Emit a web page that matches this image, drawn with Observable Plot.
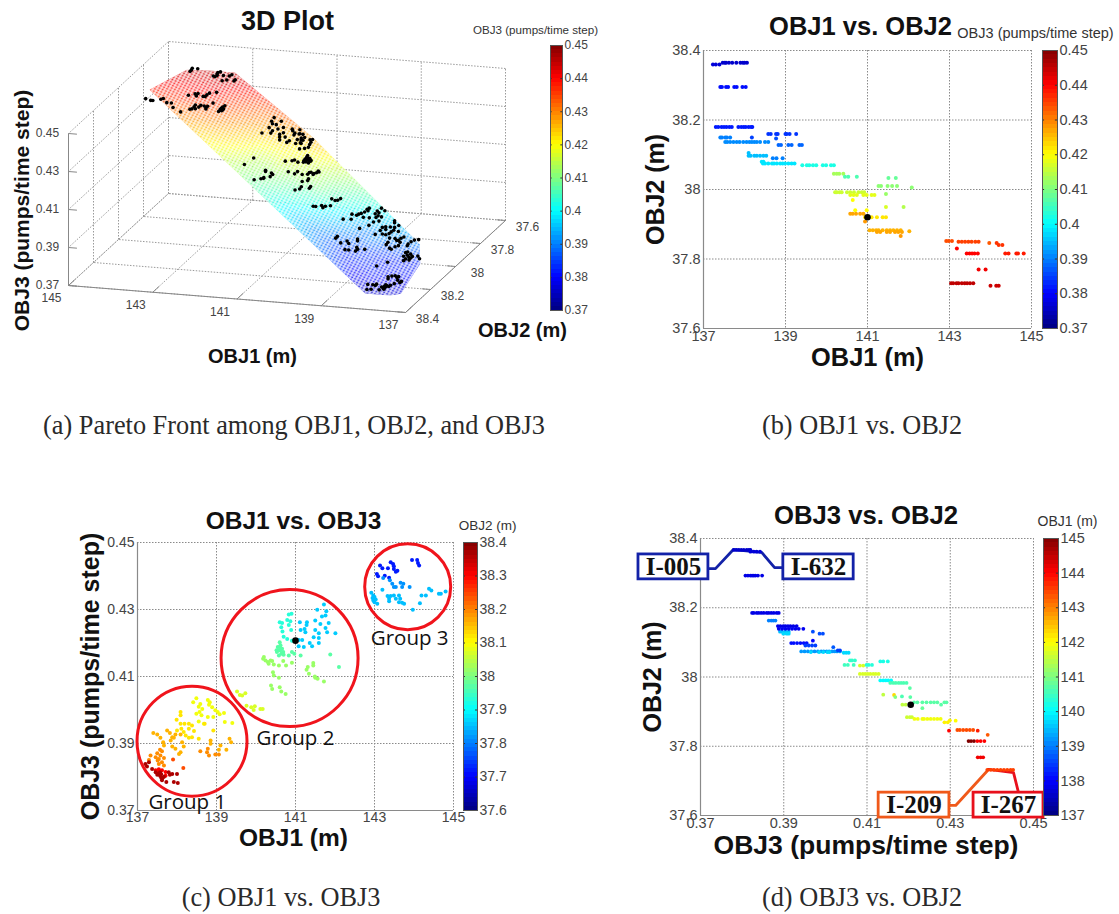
<!DOCTYPE html>
<html>
<head>
<meta charset="utf-8">
<script src="https://cdn.jsdelivr.net/npm/d3@7"></script>
<script src="https://cdn.jsdelivr.net/npm/@observablehq/plot@0.6"></script>
<style>
html,body{margin:0;padding:0;background:#fff}
#page{position:relative;width:1119px;height:914px;overflow:hidden;background:#fff}
#page svg{position:absolute;background:transparent;max-width:none;overflow:visible}
.cap{position:absolute;font-family:"Liberation Serif",serif;font-size:26.3px;color:#2a2a2a;white-space:nowrap;transform:translateX(-50%)}
</style>
</head>
<body>
<div id="page"></div>
<script>
const obj1Ticks=[137,139,141,143,145];
const obj2Ticks=[37.6,37.8,38,38.2,38.4];
const obj3Ticks=[0.37,0.39,0.41,0.43,0.45];
const obj1Bar=[137,138,139,140,141,142,143,144,145];
const obj2Bar=[37.6,37.7,37.8,37.9,38,38.1,38.2,38.3,38.4];
const obj3Bar=[0.37,0.38,0.39,0.4,0.41,0.42,0.43,0.44,0.45];

// Panel (b) rows: OBJ2, OBJ3, list of OBJ1
const rowsB=[
[38.36,.377,[137.23,137.3,137.39]],
[38.365,.376,[137.47,137.52,137.55,137.62,137.7,137.8,137.9,137.96,138,138.06]],
[38.295,.381,[137.41,137.45,137.55,137.6,137.75,137.81,137.95,138.03]],
[38.18,.382,[137.3,137.36,137.44,137.5,137.56,137.63,137.69,137.85,137.92,137.98,138.03,138.1,138.16,138.19]],
[38.16,.384,[138.58,138.64,138.77,138.81,139,139.03,139.1,139.26]],
[38.15,.39,[137.41,137.45,137.53,137.57,137.65]],
[38.15,.385,[138.18]],
[38.137,.391,[137.53,137.58,137.65,137.73,137.81,137.88,137.97,138.05,138.12,138.18,138.24,138.3,138.38,138.5,138.58]],
[38.147,.386,[138.77]],
[38.128,.388,[138.83,138.89,139.07,139.15,139.34,139.4]],
[38.105,.395,[138.1]],
[38.097,.395,[138.1,138.15,138.24,138.3,138.38,138.46,138.53]],
[38.09,.39,[138.69,138.78,138.93]],
[38.08,.398,[138.42,138.46]],
[38.075,.398,[138.45,138.5,138.58,138.67,138.72,138.79,138.87,138.93,138.99,139.07,139.15,139.22]],
[38.07,.402,[139.41,139.52,139.58,139.67,139.75,139.91,139.99,140.11,140.18]],
[38.045,.413,[140.18,140.25,140.31,140.41]],
[38.037,.406,[140.45,140.53,140.74]],
[38.033,.408,[141.51,141.69]],
[38.01,.411,[141.27,141.33,141.49,141.6,141.72]],
[38.006,.411,[142.08]],
[37.992,.416,[140.21,140.25,140.32,140.37,140.5,140.58,140.67,140.78,140.86,140.92]],
[37.984,.418,[140.58,140.66,140.74,140.9,140.98,141.1,141.17]],
[37.987,.412,[141.45]],
[37.97,.42,[140.64]],
[37.95,.417,[141.45]],
[37.95,.414,[141.88]],
[37.94,.42,[140.7,140.98]],
[37.93,.427,[140.58,140.64,140.72,140.82,140.9]],
[37.92,.422,[140.94,141.1,141.23,141.37,141.45]],
[37.908,.428,[140.94]],
[37.883,.426,[141.05,141.13,141.21,141.27,141.37,141.47,141.55,141.63,141.72,141.81]],
[37.878,.427,[141.23,141.31,141.47,141.55,141.67,141.75,141.84]],
[37.866,.428,[141.81]],
[37.88,.426,[142.02]],
[37.852,.434,[142.92,142.98,143.06]],
[37.85,.435,[143.22,143.3,143.38,143.46,143.54,143.63,143.71]],
[37.846,.433,[143.97]],
[37.846,.436,[144.15]],
[37.84,.436,[144.2,144.29]],
[37.83,.44,[143.18]],
[37.816,.44,[143.42,143.49,143.55,143.61,143.69]],
[37.816,.438,[144.36,144.44,144.63,144.67,144.81]],
[37.77,.441,[143.71,143.88]],
[37.73,.445,[143.04,143.09,143.17,143.22,143.3,143.37,143.43,143.5,143.58]],
[37.723,.444,[144,144.14,144.2]]
];
const selected=[141,37.92,0.4207];

// Panel (c) groups: OBJ2 colour, list of [OBJ1, OBJ3]
const rowsC=[
[38.09,[[138.49,.4035],[138.41,.4023],[138.59,.4018],[138.55,.401],[138.64,.4003],[138.57,.3994],[138.62,.3984],[138.49,.3989],[138.78,.403],[138.83,.4023],[138.81,.4016],[138.89,.4008],[138.97,.3999],[139.03,.3994],[139.08,.3987],[139.19,.3991],[139.21,.3964],[139.4,.3961],[138.92,.3979],[138.55,.3966],[138.68,.3959],[138.78,.3979]]],
[38.12,[[138.09,.3994],[138.09,.3984],[137.99,.3971],[138.09,.3959],[138.19,.3959],[138.3,.3959],[138.38,.3954],[138.43,.3937],[138.11,.3944],[138,.3939],[138.17,.3934],[138.3,.3944],[138.22,.3924],[138.3,.3917],[138.38,.3919],[138.55,.3914],[138.92,.3939],[138.7,.3959]]],
[38.16,[[137.4,.3931],[137.5,.3927],[137.58,.3917],[137.65,.3904],[137.67,.3894],[137.75,.3939],[137.82,.3931],[137.88,.3919],[137.84,.3909],[137.92,.3917],[137.96,.3927],[138.09,.3927],[138.13,.3904],[138.17,.3891],[137.88,.3891],[137.96,.3884],[138.09,.3874],[138.05,.3869],[138.85,.3909],[138.85,.3899],[139.1,.3894],[139.33,.3914],[139.37,.3904],[139.25,.3881],[139.06,.3881]]],
[38.19,[[138.59,.3877],[138.78,.3884],[138.76,.3874],[138.81,.3864],[138.97,.3867],[139.06,.3867],[137.57,.3881],[137.62,.3877],[137.5,.3871],[137.46,.3859],[137.33,.3864],[137.58,.3864],[137.67,.3857],[137.54,.3854],[137.62,.3844],[137.54,.3839],[137.67,.3834],[137.29,.3851],[137.51,.3849]]],
[38.24,[[137.9,.3852],[138.16,.3827]]],
[38.3,[[137.54,.3823],[137.62,.382],[137.71,.3815],[137.5,.3815],[137.46,.382],[137.71,.3804]]],
[38.365,[[137.2,.3839],[137.29,.3844],[137.24,.3831],[137.37,.3824],[137.46,.3814],[137.5,.3807],[137.57,.3804],[137.6,.3798],[137.67,.3801],[137.57,.3814],[137.62,.379],[137.73,.3785],[137.82,.3807],[137.88,.3809],[138,.3809],[137.92,.3785],[138.02,.3782],[137.79,.3814],[137.54,.381],[137.6,.3808],[137.63,.3796]]],
[38.07,[[139.52,.4055],[139.59,.4045],[139.65,.4043],[139.73,.405],[139.76,.4013],[139.88,.4008],[139.97,.4011],[139.94,.4],[140.11,.4003],[140.17,.4003]]],
[38.02,[[140.2,.4158],[140.24,.4148],[140.18,.4153],[140.3,.4143],[140.37,.4148],[140.32,.4138],[140.45,.4136],[140.41,.4146],[140.58,.4133],[140.69,.4146],[140.76,.4133],[140.91,.4141],[140.43,.4113],[140.45,.4103],[140.58,.4096],[141.31,.4128],[141.28,.412],[141.34,.4108],[141.45,.414],[141.45,.4133],[141.5,.4096],[141.56,.4093],[141.72,.4085],[141.49,.41],[140.38,.4073],[140.41,.4063],[140.6,.4068],[140.64,.4055],[140.75,.4048]]],
[37.97,[[140.6,.4202],[140.55,.4188],[140.62,.4193],[140.58,.4178],[140.66,.4183],[140.53,.4173],[140.64,.4168],[140.58,.4163],[140.69,.4173],[140.6,.4188],[140.52,.4178],[140.62,.4178],[140.83,.4163],[140.97,.4168],[140.91,.4173],[141.13,.4163],[140.7,.4165],[141.88,.4166],[142.1,.4128]]],
[37.93,[[140.9,.4287],[140.83,.4285],[140.79,.4269],[140.87,.4265],[140.83,.4254],[140.89,.4239],[140.6,.4262],[140.66,.426],[140.64,.4247],[140.67,.4234],[140.7,.4219],[140.79,.4212],[140.91,.4207]]],
[37.86,[[141.72,.4315],[141.78,.4295],[141.76,.4282],[141.55,.4299],[141.67,.4279],[141.5,.4267],[141.84,.426],[141.63,.4257],[141.76,.4245],[141.8,.4232],[142.01,.4229],[141.5,.4239],[141.59,.4229],[141.59,.4215],[141.46,.4217],[141.59,.42],[141.36,.42],[141.42,.419],[141.21,.4188],[141.08,.419],[141.29,.4262],[141.28,.4254],[141.11,.4262],[141.23,.4242],[141.25,.4232],[141.13,.4239],[141.17,.4209],[141.08,.4209]]],
[37.72,[[143.14,.4431],[143.2,.4423],[143.34,.4423],[143.41,.4441],[143.47,.4436],[143.49,.4421],[143.54,.4413],[143.58,.4416],[143.49,.4429],[143.06,.4406],[143.09,.4399],[143.26,.4401],[143.37,.4395],[143.95,.4448],[144.08,.4448],[144.1,.4439],[144.13,.4431]]],
[37.815,[[143.22,.4394],[143.39,.4387],[143.45,.4377],[143.49,.4367],[143.54,.4367],[143.66,.438],[143.73,.4377],[143.7,.4367],[143.89,.4367]]],
[37.85,[[142.92,.435],[142.97,.4342],[143,.4337],[142.95,.4334],[143.03,.433],[143,.4322],[143.07,.4317],[142.97,.4327],[143.33,.434],[143.37,.4332],[143.41,.434],[143.49,.4342],[143.54,.4332],[143.37,.4325],[143.62,.4342],[143.65,.4332],[143.62,.4322],[143.7,.432],[143.75,.4317],[144.38,.4362],[144.44,.4357],[144.63,.4347],[144.68,.4347],[144.8,.4354],[144.3,.4342],[144.19,.4342],[144.15,.4319],[143.97,.4299],[143.2,.4359]]]
];
const groupCx=[138.38,140.85,143.84];
const groupCy=[0.3907,0.4155,0.4368];
const groupR=[55,68.5,43];
const groupNames=["Group 1","Group 2","Group 3"];
const groupLabelX=[138.26,141,143.89];
const groupLabelY=[0.3725,0.3915,0.4213];

// Panel (d) rows: OBJ2, OBJ1 colour, list of OBJ3
const rowsD=[
[38.367,137.6,[.378,.3786,.3792,.3798,.3804,.3811,.3816,.382]],
[38.362,137.7,[.382,.3828,.3835,.3843]],
[38.293,137.8,[.3808,.3814,.382,.3824,.3828,.3832,.3838,.3848]],
[38.185,137.8,[.3824,.3828,.3835,.384,.3846,.3852,.3859,.3864,.387,.3876,.3883,.3888]],
[38.163,139,[.3864,.387,.3875,.388]],
[38.131,139.5,[.3891,.3896,.3904,.3912]],
[38.125,139.7,[.3899,.3907,.3912]],
[38.147,137.8,[.3886,.3892,.3899,.3904,.391,.3916,.3923,.3931]],
[38.139,137.9,[.3888,.3896,.3904,.3912,.392,.3928,.3936,.3947]],
[38.131,138.6,[.397]],
[38.125,138.6,[.3986,.3994]],
[38.105,138,[.397]],
[38.098,138.1,[.3918,.3924,.3932,.394,.3948,.3955]],
[38.091,138.5,[.3952,.396,.3968,.3976]],
[38.086,138.7,[.4019]],
[38.074,139.2,[.3942,.395,.3958,.3966,.3974,.3982,.399,.3996,.4003,.4009,.4016,.4022,.4028,.4035]],
[38.072,139.7,[.3965,.3985,.3995,.4005,.401]],
[38.077,138.5,[.403,.4035]],
[38.07,139.7,[.4044,.405,.4056]],
[38.048,140.4,[.4059,.4064,.4071]],
[38.035,140.5,[.4046,.4054,.4068]],
[38.033,141.7,[.4083,.4091]],
[38.035,140.3,[.4099,.4104,.4112]],
[38.045,140.2,[.4132,.4139,.415]],
[38.009,141.7,[.4083,.409,.4096,.4102,.4108,.4115,.4121,.4128]],
[37.99,140,[.4132,.4139,.4145,.4151,.4158]],
[37.983,140.6,[.4156,.4163,.4169,.4176,.4182,.4188,.4195]],
[37.968,140.7,[.4203]],
[37.949,141.5,[.4139]],
[37.948,142.3,[.4165]],
[37.942,141,[.4168]],
[37.944,140.6,[.4184]],
[37.942,140.7,[.4204]],
[37.927,140.7,[.4213,.4221,.4233,.4243,.4253,.4261,.4269,.4286,.4291]],
[37.92,140.7,[.4278]],
[37.92,141.5,[.4185,.4193]],
[37.91,140.8,[.4233]],
[37.884,141.6,[.4196,.4203,.4208]],
[37.879,141.9,[.4214,.4222,.4233,.4237,.4245,.4253,.4261,.4269,.4277]],
[37.869,142.1,[.4286,.4294]],
[37.875,142.1,[.4299]],
[37.874,142,[.4313]],
[37.845,144,[.4297]],
[37.847,143.4,[.4317,.4323,.4331,.4339,.4347,.4355]],
[37.845,143.8,[.4366]],
[37.833,143.3,[.439]],
[37.815,145,[.4344,.435,.4357]],
[37.815,144,[.4365,.4373,.4382]],
[37.768,144.1,[.4366,.4373,.4379]],
[37.732,143.5,[.4389,.4397,.4405,.4413,.4421,.4429,.4437,.4445,.4451]]
];
const selectedD=[0.4205,37.92];

// Panel (d) call-outs
const calloutNames=["I-005","I-632","I-209","I-267"];
const calloutColors=["#1322a8","#1322a8","#f0591a","#e8101c"];
const calloutX1=[0.3551,0.3899,0.4128,0.4356];
const calloutX2=[0.3719,0.4068,0.4298,0.4524];
const calloutY1=[38.282,38.282,37.594,37.594];
const calloutY2=[38.354,38.354,37.666,37.666];
const blueLeaderX=[0.3719,0.3736,0.3779,0.3847,0.3878,0.3899];
const blueLeaderY=[38.313,38.313,38.368,38.36,38.316,38.316];
const orangeLeaderX=[0.4298,0.4313,0.4392];
const orangeLeaderY=[37.629,37.629,37.733];
const redLeaderX=[0.4392,0.4452,0.4464];
const redLeaderY=[37.733,37.724,37.666];

const pointsB=rowsB.flatMap(([b,c,as])=>as.map(a=>({a,b,c})));
const pointsC=rowsC.flatMap(([b,ps])=>ps.map(([a,c])=>({a,b,c})));
const pointsD=rowsD.flatMap(([b,a,cs])=>cs.map(c=>({a,b,c})));

const page=document.getElementById("page");
const FONT='"Liberation Sans",Arial,sans-serif';
const jet=t=>{
  const f=v=>Math.round(255*Math.max(0,Math.min(1,v)));
  return `rgb(${f(1.5-Math.abs(4*t-3))},${f(1.5-Math.abs(4*t-2))},${f(1.5-Math.abs(4*t-1))})`;
};
function place(svg,left,top){svg.style.left=left+"px";svg.style.top=top+"px";page.appendChild(svg);return svg;}
const fmt=d=>String(d);
const GRID={stroke:"#8a8a8a",strokeDasharray:"1.5,1.5",strokeOpacity:1,strokeWidth:1};
const MID={textAnchor:"middle",lineAnchor:"middle"};

function panel(o){
  const ml=72,mr=14,mt=44,mb=50;
  const svg=Plot.plot({
    width:o.w+ml+mr,height:o.h+mt+mb,marginLeft:ml,marginRight:mr,marginTop:mt,marginBottom:mb,
    x:{domain:o.xDomain,axis:null},y:{domain:o.yDomain,axis:null},
    color:{type:"linear",domain:o.colorDomain,interpolate:jet,clamp:true},
    style:{fontFamily:FONT,background:"transparent"},
    marks:[
      Plot.gridX(o.xTicks,GRID),Plot.gridY(o.yTicks,GRID),
      Plot.ruleX([o.xDomain[0]],{stroke:"#8a8a8a",strokeWidth:1.2}),
      Plot.ruleY([o.yDomain[0]],{stroke:"#8a8a8a",strokeWidth:1.2}),
      Plot.axisX(o.xTicks,{tickSize:0,tickPadding:2,fontSize:o.tickFont,tickFormat:fmt,color:"#444",label:null}),
      Plot.axisY(o.yTicks,{tickSize:0,tickPadding:3,fontSize:o.tickFont,tickFormat:fmt,color:"#444",label:null}),
      ...o.marks,
      Plot.text([o.title],{text:d=>d,frameAnchor:"top",dy:o.titleDy,dx:o.titleDx||0,fontSize:o.titleFont,fontWeight:"bold",fill:"#111",...MID}),
      Plot.text([o.xLabel],{text:d=>d,frameAnchor:"bottom",dy:o.xLabelDy,dx:o.xLabelDx||0,fontSize:o.xLabelFont,fontWeight:"bold",fill:"#111",...MID}),
      Plot.text([o.yLabel],{text:d=>d,frameAnchor:"left",dx:o.yLabelDx,rotate:-90,fontSize:o.yLabelFont,fontWeight:"bold",fill:"#111",...MID})
    ]
  });
  return place(svg,o.left-ml,o.top-mt);
}
function colorbar(o){
  const ml=100,mr=60,mt=24,mb=14,n=64,[lo,hi]=o.domain,st=(hi-lo)/n;
  const levels=d3.range(n).map(i=>lo+i*st);
  const svg=Plot.plot({
    width:o.w+ml+mr,height:o.h+mt+mb,marginLeft:ml,marginRight:mr,marginTop:mt,marginBottom:mb,
    x:{domain:[0,1],axis:null},y:{domain:o.domain,axis:null},
    color:{type:"linear",domain:o.domain,interpolate:jet},
    style:{fontFamily:FONT,background:"transparent"},
    marks:[
      Plot.rect(levels,{x1:0,x2:1,y1:d=>d,y2:d=>d+st,fill:d=>d+st/2,shapeRendering:"crispEdges"}),
      Plot.ruleY(o.ticks,{x1:0,x2:0.14,stroke:"#333"}),
      Plot.ruleY(o.ticks,{x1:0.86,x2:1,stroke:"#333"}),
      Plot.frame({stroke:"#555"}),
      Plot.axisY(o.ticks,{anchor:"right",tickSize:0,tickPadding:2,fontSize:o.tickFont,tickFormat:fmt,color:"#444",label:null}),
      Plot.text([o.title],{text:d=>d,frameAnchor:"top",dx:o.titleDx,dy:o.titleDy,fontSize:o.titleFont,fill:"#333",...MID})
    ]
  });
  return place(svg,o.left-ml,o.top-mt);
}

/* ---------- Panel (a): orthographic 3-D view ---------- */
const px=(a,b)=>68+(145-a)*42.125+(38.4-b)*125;
const py=(a,b,c)=>285+(145-a)*3.375-(38.4-b)*115-(c-0.37)*1900;
const seg=(p,q)=>({x1:px(p[0],p[1]),y1:py(...p),x2:px(q[0],q[1]),y2:py(...q)});
const [aMin,aMax]=[137,145],[bMin,bMax]=[37.6,38.4],[cMin,cMax]=[0.37,0.45];
const grid3d=[
  ...obj1Ticks.map(a=>seg([a,bMax,cMin],[a,bMin,cMin])),
  ...obj2Ticks.map(b=>seg([aMin,b,cMin],[aMax,b,cMin])),
  ...obj1Ticks.map(a=>seg([a,bMin,cMin],[a,bMin,cMax])),
  ...obj3Ticks.map(c=>seg([aMin,bMin,c],[aMax,bMin,c])),
  ...obj2Ticks.map(b=>seg([aMax,b,cMin],[aMax,b,cMax])),
  ...obj3Ticks.map(c=>seg([aMax,bMin,c],[aMax,bMax,c]))
];
const axes3d=[seg([aMax,bMax,cMin],[aMin,bMax,cMin]),seg([aMin,bMax,cMin],[aMin,bMin,cMin]),seg([aMax,bMax,cMin],[aMax,bMax,cMax]),
  ...obj1Ticks.map(a=>seg([a,bMax,cMin],[a,bMax-0.05,cMin])),
  ...obj2Ticks.map(b=>seg([aMin,b,cMin],[aMin+0.2,b,cMin])),
  ...obj3Ticks.map(c=>seg([aMax,bMax,c],[aMax-0.2,bMax,c]))];
const sx=d=>px(d.a,d.b), sy=d=>py(d.a,d.b,d.c);
const hull=d3.polygonHull(pointsB.map(d=>[sx(d),sy(d)]));
const txt=(s,dx,dy,size,extra={})=>Plot.text([s],{text:d=>d,frameAnchor:"top-left",dx,dy,fontSize:size,fontWeight:"bold",fill:"#111",...MID,...extra});
const svgA=Plot.plot({
  width:610,height:375,margin:0,
  x:{domain:[0,610],range:[0,610],axis:null},
  y:{domain:[0,375],range:[0,375],axis:null},
  color:{type:"linear",domain:[0.37,0.45],interpolate:jet},
  style:{fontFamily:FONT,background:"transparent"},
  marks:[
    Plot.link(grid3d,{x1:"x1",y1:"y1",x2:"x2",y2:"y2",stroke:"#9a9a9a",strokeDasharray:"1.5,1.5",strokeWidth:1}),
    Plot.raster(pointsB,{x:sx,y:sy,fill:"c",interpolate:"barycentric",pixelSize:1}),
    Plot.line(hull,{x:d=>d[0],y:d=>d[1],fill:"url(#mesh3d)",stroke:"none"}),
    Plot.link(axes3d,{x1:"x1",y1:"y1",x2:"x2",y2:"y2",stroke:"#888",strokeWidth:1}),
    Plot.dot(pointsC,{x:sx,y:sy,r:1.8,fill:"black"}),
    Plot.text(obj1Ticks,{x:a=>px(a,bMax),y:a=>py(a,bMax,cMin),text:fmt,dx:-17,dy:13,fontSize:12,fill:"#444"}),
    Plot.text(obj2Ticks,{x:b=>px(aMin,b),y:b=>py(aMin,b,cMin),text:fmt,dx:22,dy:7,fontSize:12,fill:"#444"}),
    Plot.text(obj3Ticks,{x:c=>px(aMax,bMax),y:c=>py(aMax,bMax,c),text:fmt,dx:-21,fontSize:12,fill:"#444"}),
    txt("3D Plot",287,21,27),
    txt("OBJ1 (m)",252,356,20),
    txt("OBJ2 (m)",522,330,20),
    txt("OBJ3 (pumps/time step)",22,210,21,{rotate:-90})
  ]
});
place(svgA,0,0);
{
  const s=d3.select(svgA),defs=s.insert("defs",":first-child");
  defs.append("clipPath").attr("id","hull3d").append("polygon").attr("points",hull.map(p=>p.join(",")).join(" "));
  const pat=defs.append("pattern").attr("id","mesh3d").attr("patternUnits","userSpaceOnUse").attr("width",1).attr("height",1)
    .attr("patternTransform","matrix(3.2,1.5,1.3,-2.3,0,0)");
  pat.append("path").attr("d","M0 0H1M0 1H1M0 0V1M1 0V1").attr("stroke","#fff").attr("stroke-width",0.3).attr("fill","none");
  s.select("image").attr("clip-path","url(#hull3d)").attr("opacity",0.72);
}
colorbar({left:550,top:45,w:12,h:265,domain:[0.37,0.45],ticks:obj3Bar,tickFont:12,title:"OBJ3 (pumps/time step)",titleFont:11.6,titleDx:-21,titleDy:-15});

/* ---------- Panel (b) ---------- */
panel({left:703,top:50,w:328,h:278,xDomain:[137,145],yDomain:[37.6,38.4],colorDomain:[0.37,0.45],
  xTicks:obj1Ticks,yTicks:obj2Ticks,tickFont:14.5,
  title:"OBJ1 vs. OBJ2",titleDy:-24,titleDx:-7,titleFont:25.5,
  xLabel:"OBJ1 (m)",xLabelDy:29,xLabelFont:25.4,
  yLabel:"OBJ2 (m)",yLabelDx:-48,yLabelFont:25,
  marks:[
    Plot.dot(pointsB,{x:"a",y:"b",fill:"c",r:2}),
    Plot.dot([selected],{x:d=>d[0],y:d=>d[1],r:3.3,fill:"black"})
  ]});
colorbar({left:1042,top:50,w:15,h:278,domain:[0.37,0.45],ticks:obj3Bar,tickFont:14.5,title:"OBJ3 (pumps/time step)",titleFont:14.5,titleDx:-14.5,titleDy:-17});

/* ---------- Panel (c) ---------- */
panel({left:137,top:542,w:316,h:268,xDomain:[137,145],yDomain:[0.37,0.45],colorDomain:[37.6,38.4],
  xTicks:obj1Ticks,yTicks:obj3Ticks,tickFont:14,
  title:"OBJ1 vs. OBJ3",titleDy:-21,titleDx:-2,titleFont:24.5,
  xLabel:"OBJ1 (m)",xLabelDy:28,xLabelDx:-2,xLabelFont:24.5,
  yLabel:"OBJ3 (pumps/time step)",yLabelDx:-47,yLabelFont:25,
  marks:[
    Plot.dot(pointsC,{x:"a",y:"c",fill:"b",r:2}),
    Plot.dot([selected],{x:d=>d[0],y:d=>d[2],r:3.3,fill:"black"}),
    ...groupR.map((r,i)=>Plot.dot([i],{x:j=>groupCx[j],y:j=>groupCy[j],r,fill:"none",stroke:"#f0141c",strokeWidth:3})),
    Plot.text(groupNames,{x:(d,i)=>groupLabelX[i],y:(d,i)=>groupLabelY[i],text:d=>d,fontSize:20.5,fontFamily:'"Open Sans",sans-serif',fill:"#111"})
  ]});
colorbar({left:463,top:542,w:14,h:268,domain:[37.6,38.4],ticks:obj2Bar,tickFont:14,title:"OBJ2 (m)",titleFont:13.5,titleDx:17,titleDy:-17});

/* ---------- Panel (d) ---------- */
const leader=(X,Y,color)=>Plot.line(X.map((x,i)=>[x,Y[i]]),{x:d=>d[0],y:d=>d[1],stroke:color,strokeWidth:2.8});
panel({left:700,top:538,w:333,h:277,xDomain:[0.37,0.45],yDomain:[37.6,38.4],colorDomain:[137,145],
  xTicks:obj3Ticks,yTicks:obj2Ticks,tickFont:14.5,
  title:"OBJ3 vs. OBJ2",titleDy:-23,titleDx:-1,titleFont:25.7,
  xLabel:"OBJ3 (pumps/time step)",xLabelDy:30,xLabelDx:-1,xLabelFont:26.5,
  yLabel:"OBJ2 (m)",yLabelDx:-48,yLabelFont:25,
  marks:[
    leader(blueLeaderX,blueLeaderY,calloutColors[0]),
    leader(orangeLeaderX,orangeLeaderY,calloutColors[2]),
    leader(redLeaderX,redLeaderY,calloutColors[3]),
    Plot.dot(pointsD,{x:"c",y:"b",fill:"a",r:1.9}),
    Plot.dot([selectedD],{x:d=>d[0],y:d=>d[1],r:3.3,fill:"black"}),
    Plot.rect(calloutNames,{x1:(d,i)=>calloutX1[i],x2:(d,i)=>calloutX2[i],y1:(d,i)=>calloutY1[i],y2:(d,i)=>calloutY2[i],fill:"white",stroke:(d,i)=>calloutColors[i],strokeWidth:2.8}),
    Plot.text(calloutNames,{x:(d,i)=>(calloutX1[i]+calloutX2[i])/2,y:(d,i)=>(calloutY1[i]+calloutY2[i])/2,text:d=>d,fontFamily:'"Liberation Serif",serif',fontWeight:"bold",fontSize:25,fill:"#111"})
  ]});
colorbar({left:1043,top:538,w:15,h:277,domain:[137,145],ticks:obj1Bar,tickFont:14.5,title:"OBJ1 (m)",titleFont:14,titleDx:16.5,titleDy:-17});

/* ---------- Captions ---------- */
[["(a) Pareto Front among OBJ1, OBJ2, and OBJ3",294,411],["(b) OBJ1 vs. OBJ2",862,411],["(c) OBJ1 vs. OBJ3",281,883],["(d) OBJ3 vs. OBJ2",862,883]]
.forEach(([t,x,y])=>{const d=document.createElement("div");d.className="cap";d.textContent=t;d.style.left=x+"px";d.style.top=y+"px";page.appendChild(d);});
</script>
</body>
</html>
